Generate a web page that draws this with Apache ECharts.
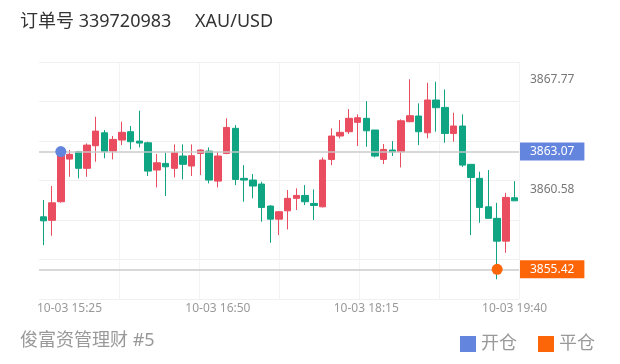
<!DOCTYPE html>
<html>
<head>
<meta charset="utf-8">
<script src="https://cdn.jsdelivr.net/npm/echarts@6/dist/echarts.min.js"></script>
<style>
html,body{margin:0;padding:0;background:#fff;}
#chart{width:620px;height:364px;}
</style>
</head>
<body>
<div id="chart"></div>
<script>
const categories = [
 '10-03 15:10','10-03 15:15','10-03 15:20','10-03 15:25','10-03 15:30','10-03 15:35','10-03 15:40','10-03 15:45','10-03 15:50','10-03 15:55',
 '10-03 16:00','10-03 16:05','10-03 16:10','10-03 16:15','10-03 16:20','10-03 16:25','10-03 16:30','10-03 16:35','10-03 16:40','10-03 16:45',
 '10-03 16:50','10-03 16:55','10-03 17:00','10-03 17:05','10-03 17:10','10-03 17:15','10-03 17:20','10-03 17:25','10-03 17:30','10-03 17:35',
 '10-03 17:40','10-03 17:45','10-03 17:50','10-03 17:55','10-03 18:00','10-03 18:05','10-03 18:10','10-03 18:15','10-03 18:20','10-03 18:25',
 '10-03 18:30','10-03 18:35','10-03 18:40','10-03 18:45','10-03 18:50','10-03 18:55','10-03 19:00','10-03 19:05','10-03 19:10','10-03 19:15',
 '10-03 19:20','10-03 19:25','10-03 19:30','10-03 19:35','10-03 19:40'
];
const xTickLabels = ['10-03 15:25','10-03 16:50','10-03 18:15','10-03 19:40'];

const openPrices = [
 3858.83,3858.60,3859.81,3862.58,3863.06,3861.98,3863.45,3864.29,3863.10,3863.82,
 3864.36,3863.75,3863.64,3861.87,3862.30,3861.98,3862.78,3862.13,3862.95,3863.10,
 3861.15,3862.95,3864.58,3861.33,3861.22,3860.96,3859.53,3858.68,3859.22,3860.03,
 3860.22,3859.70,3859.48,3862.56,3864.08,3864.36,3864.97,3865.23,3864.47,3862.56,
 3863.17,3863.06,3865.01,3865.38,3864.29,3866.42,3865.94,3864.25,3864.73,3862.24,
 3861.33,3859.48,3858.73,3857.25,3860.07
];
const closePrices = [
 3858.57,3859.74,3863.07,3862.89,3861.98,3863.49,3864.40,3863.06,3863.86,3864.32,
 3863.71,3863.62,3861.80,3862.34,3862.08,3862.99,3862.24,3862.80,3863.17,3861.22,
 3862.78,3864.64,3861.26,3861.22,3860.83,3859.44,3858.68,3859.16,3860.03,3860.22,
 3859.81,3859.57,3862.52,3864.08,3864.32,3865.23,3865.27,3864.42,3862.78,3863.21,
 3863.04,3865.07,3865.40,3864.36,3866.42,3865.92,3864.25,3864.73,3862.19,3861.39,
 3859.44,3858.73,3857.25,3860.09,3859.87
];
const lowPrices = [
 3856.99,3857.60,3859.75,3861.43,3861.33,3861.43,3862.41,3862.63,3862.56,3863.49,
 3863.21,3863.34,3861.48,3860.74,3860.18,3861.39,3861.26,3861.48,3861.54,3861.00,
 3860.74,3862.90,3860.89,3859.81,3860.03,3858.51,3857.14,3857.64,3858.01,3859.27,
 3859.59,3858.62,3859.44,3862.19,3863.93,3864.21,3863.43,3863.38,3862.69,3862.26,
 3862.78,3862.04,3864.98,3863.49,3863.93,3864.36,3863.64,3863.71,3862.08,3857.64,
 3858.44,3858.73,3854.77,3856.49,3859.87
];
const highPrices = [
 3859.92,3860.83,3863.30,3863.17,3863.12,3863.60,3865.33,3864.47,3864.08,3865.01,
 3864.73,3865.72,3863.71,3862.91,3862.99,3863.54,3863.54,3863.54,3863.21,3863.34,
 3863.06,3865.23,3864.79,3862.19,3861.61,3861.11,3859.59,3859.20,3860.57,3860.68,
 3860.89,3860.61,3862.69,3864.58,3865.12,3865.83,3865.49,3866.35,3864.47,3863.56,
 3863.75,3865.16,3867.77,3866.20,3867.54,3867.61,3867.11,3865.59,3865.49,3862.24,
 3861.76,3861.87,3859.74,3860.39,3861.15
];

const yTickValues = [3867.77, 3863.07, 3860.58, 3855.42];
const openTrade = { index: 2, price: 3863.07 };
const closeTrade = { index: 52, price: 3855.42 };

const upColor = '#ea4d5f';
const downColor = '#0fa583';
const openColor = '#6485de';
const closeColor = '#fd6608';
const FONT = "'Noto Sans', 'Noto Sans CJK SC', sans-serif";

const candleData = openPrices.map((o, i) => [o, closePrices[i], lowPrices[i], highPrices[i]]);
const xTickIdx = xTickLabels.map(l => categories.indexOf(l));

const chart = echarts.init(document.getElementById('chart'), null, { renderer: 'canvas' });
const gridPos = { left: 39, right: 101, top: 62, bottom: 65 };

chart.setOption({
  animation: false,
  textStyle: { fontFamily: FONT },
  graphic: [
    { type: 'text', left: 20, top: 13, style: { text: '订单号 339720983', fontSize: 18, fill: '#333', fontFamily: FONT } },
    { type: 'text', left: 195, top: 13, style: { text: 'XAU/USD', fontSize: 18, fill: '#333', fontFamily: FONT } },
    { type: 'text', left: 20, top: 332, style: { text: '俊富资管理财 #5', fontSize: 18, fill: '#999', fontFamily: FONT } }
  ],
  legend: {
    right: 20, top: 330,
    itemWidth: 16, itemHeight: 16, itemGap: 21,
    icon: 'rect',
    textStyle: { fontSize: 18, color: '#999', fontFamily: FONT },
    itemStyle: { borderRadius: 3 },
    data: [
      { name: '开仓', icon: 'rect', itemStyle: { color: openColor, borderRadius: 3 } },
      { name: '平仓', icon: 'rect', itemStyle: { color: closeColor, borderRadius: 3 } }
    ]
  },
  grid: [
    Object.assign({}, gridPos),
    Object.assign({}, gridPos)
  ],
  xAxis: [
    {
      type: 'category', gridIndex: 0, data: categories, boundaryGap: true,
      axisLine: { show: false }, axisTick: { show: false }, splitLine: { show: false },
      axisLabel: {
        interval: (idx) => xTickIdx.indexOf(idx) >= 0,
        color: '#999', fontSize: 12, margin: 4, fontFamily: FONT
      }
    },
    {
      type: 'value', gridIndex: 1, min: 0, max: 6, interval: 1,
      axisLine: { show: false }, axisTick: { show: false }, axisLabel: { show: false },
      splitLine: { show: true, showMinLine: false, lineStyle: { color: '#f3f3f3', width: 1 } }
    }
  ],
  yAxis: [
    {
      type: 'value', gridIndex: 0, position: 'right',
      min: 3853.49, max: 3868.89,
      axisLine: { show: false }, axisTick: { show: false }, splitLine: { show: false },
      axisLabel: {
        customValues: yTickValues,
        margin: 1,
        formatter: (v) => {
          const s = Number(v).toFixed(2);
          if (Math.abs(v - openTrade.price) < 1e-6) return '{o|' + s + '}';
          if (Math.abs(v - closeTrade.price) < 1e-6) return '{c|' + s + '}';
          return '{p|' + s + '}';
        },
        rich: {
          o: { backgroundColor: openColor, color: '#fff', fontSize: 12, lineHeight: 14, padding: [3, 10, 3, 10], fontFamily: FONT },
          c: { backgroundColor: closeColor, color: '#fff', fontSize: 12, lineHeight: 14, padding: [3, 10, 3, 10], fontFamily: FONT },
          p: { color: '#777', fontSize: 12, lineHeight: 14, padding: [3, 10, 3, 10], fontFamily: FONT }
        }
      }
    },
    {
      type: 'value', gridIndex: 1, min: 0, max: 6, interval: 1,
      axisLine: { show: false }, axisTick: { show: false }, axisLabel: { show: false },
      splitLine: { show: true, lineStyle: { color: '#f0f0f0', width: 1 } }
    }
  ],
  series: [
    {
      type: 'candlestick', name: 'K', xAxisIndex: 0, yAxisIndex: 0,
      data: candleData,
      barWidth: 7,
      itemStyle: { color: upColor, color0: downColor, borderColor: upColor, borderColor0: downColor, borderWidth: 1 },
      markLine: {
        silent: true, symbol: ['none', 'none'], label: { show: false },
        lineStyle: { color: 'rgba(200,200,200,0.7)', width: 2, type: 'solid' },
        data: [{ yAxis: openTrade.price }, { yAxis: closeTrade.price }]
      }
    },
    {
      type: 'scatter', name: '开仓', xAxisIndex: 0, yAxisIndex: 0,
      symbolSize: 11, itemStyle: { color: openColor, opacity: 1 }, z: 5,
      data: [[openTrade.index, openTrade.price]]
    },
    {
      type: 'scatter', name: '平仓', xAxisIndex: 0, yAxisIndex: 0,
      symbolSize: 11, itemStyle: { color: closeColor, opacity: 1 }, z: 5,
      data: [[closeTrade.index, closeTrade.price]]
    }
  ]
});
</script>
</body>
</html>
